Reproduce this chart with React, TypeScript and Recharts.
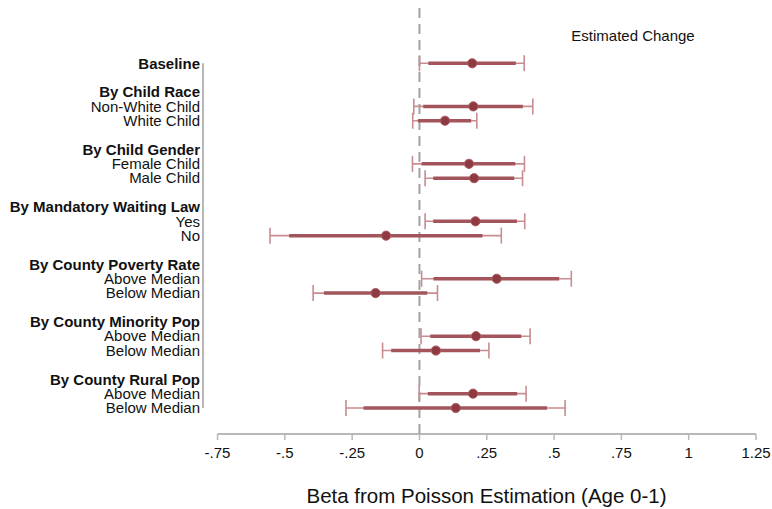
import {
  ScatterChart, Scatter, XAxis, YAxis, ErrorBar, ReferenceLine, Customized,
} from "recharts";

// rows from top to bottom; empty strings are the gaps between groups
const rowLabels = [
  "Baseline", "",
  "By Child Race", "Non-White Child", "White Child", "",
  "By Child Gender", "Female Child", "Male Child", "",
  "By Mandatory Waiting Law", "Yes", "No", "",
  "By County Poverty Rate", "Above Median", "Below Median", "",
  "By County Minority Pop", "Above Median", "Below Median", "",
  "By County Rural Pop", "Above Median", "Below Median",
];
const boldRows = [
  "Baseline", "By Child Race", "By Child Gender", "By Mandatory Waiting Law",
  "By County Poverty Rate", "By County Minority Pop", "By County Rural Pop",
];

// rows that carry an estimate
const estimateRows = [0, 3, 4, 7, 8, 11, 12, 15, 16, 19, 20, 23, 24];
const betas = [0.196, 0.200, 0.095, 0.184, 0.203, 0.208, -0.124, 0.287, -0.163, 0.210, 0.061, 0.199, 0.135];
const lo95 = [0.000, -0.021, -0.025, -0.026, 0.021, 0.021, -0.555, 0.008, -0.395, 0.006, -0.137, -0.001, -0.273];
const hi95 = [0.389, 0.421, 0.213, 0.390, 0.383, 0.391, 0.304, 0.564, 0.067, 0.411, 0.258, 0.396, 0.541];
const lo90 = [0.033, 0.014, -0.006, 0.008, 0.051, 0.051, -0.484, 0.052, -0.355, 0.040, -0.105, 0.031, -0.208];
const hi90 = [0.358, 0.384, 0.192, 0.356, 0.352, 0.362, 0.234, 0.519, 0.029, 0.378, 0.225, 0.363, 0.474];
const changeLabels = ["21.7%", "22.2%", "10%", "20.2%", "22.5%", "23.1%", "-11.7%", "33.2%", "-15%", "23.4%", "6.3%", "22%", "14.5%"];

const xTicks = [-0.75, -0.5, -0.25, 0, 0.25, 0.5, 0.75, 1, 1.25];

const data = estimateRows.map((row, i) => ({
  row,
  beta: betas[i],
  ci95: [betas[i] - lo95[i], hi95[i] - betas[i]],
  ci90: [betas[i] - lo90[i], hi90[i] - betas[i]],
}));

// axis ranges (row axis is padded above for the column header, below for the x axis)
const X_MIN = -0.804;
const X_MAX = 1.25;
const ROW_TOP = -3.85;
const ROW_BOTTOM = 25.81;

const FONT = "'Liberation Sans', Arial, sans-serif";
const INK = "#111111";
const AXIS_GREY = "#b8b8b8";

const fmtTick = (v: number) => (v === 0 ? "0" : String(v).replace("0.", "."));

function RowTick({ x, y, payload }: any) {
  const label = rowLabels[Math.round(payload.value)] ?? "";
  const bold = boldRows.includes(label);
  return (
    <text x={x} y={y} dy="0.35em" textAnchor="end" fontFamily={FONT}
          fontSize={15} fontWeight={bold ? 700 : 400} fill={INK}>
      {label}
    </text>
  );
}

function ChangeTick({ x, y, payload }: any) {
  const i = estimateRows.indexOf(Math.round(payload.value));
  if (i < 0) return null;
  return (
    <text x={x - 123} y={y} dy="0.35em" textAnchor="middle" fontFamily={FONT}
          fontSize={15} fill={INK}>
      {changeLabels[i]}
    </text>
  );
}

function Dot({ cx, cy }: any) {
  return <circle cx={cx} cy={cy} r={4.6} fill="#8e3a40" stroke="#a95c62" strokeWidth={1} />;
}

function ColumnHeader() {
  return (
    <text x={633} y={36} dy="0.35em" textAnchor="middle" fontFamily={FONT} fontSize={15} fill={INK}>
      Estimated Change
    </text>
  );
}

export default function App() {
  return (
    <div style={{ position: "absolute", left: 0, top: 0, width: 772, height: 509, background: "#fff" }}>
      <ScatterChart width={772} height={509} margin={{ top: 8, right: 16, bottom: 0, left: 0 }}>
        <XAxis type="number" dataKey="beta" domain={[X_MIN, X_MAX]} ticks={xTicks}
               tickFormatter={fmtTick} axisLine={false} height={75}
               tickSize={6} tickMargin={7} interval={0}
               tickLine={{ stroke: AXIS_GREY, strokeWidth: 1.5 }}
               tick={{ fontSize: 15, fontFamily: FONT, fill: INK }}
               label={{ value: "Beta from Poisson Estimation (Age 0-1)", position: "insideBottom",
                        offset: 6, dx: 7, fontSize: 20.5, fontFamily: FONT, fill: INK }} />
        <YAxis yAxisId="rows" type="number" dataKey="row" domain={[ROW_TOP, ROW_BOTTOM]} reversed
               ticks={rowLabels.map((_, i) => i).filter(i => rowLabels[i] !== "")}
               interval={0} width={203} axisLine={false} tickLine={false}
               tickSize={0} tickMargin={3} tick={<RowTick />} />
        <YAxis yAxisId="pct" orientation="right" type="number" domain={[ROW_TOP, ROW_BOTTOM]} reversed
               ticks={estimateRows} interval={0} width={0} axisLine={false} tickLine={false}
               tickSize={0} tickMargin={0} tick={<ChangeTick />} />

        {/* axis lines drawn as segments so they stop at the outer ticks / rows */}
        <ReferenceLine yAxisId="rows" segment={[{ x: X_MIN, y: 0 }, { x: X_MIN, y: 24 }]}
                       stroke={AXIS_GREY} strokeWidth={2} ifOverflow="visible" />
        <ReferenceLine yAxisId="rows" segment={[{ x: -0.75, y: ROW_BOTTOM }, { x: 1.25, y: ROW_BOTTOM }]}
                       stroke={AXIS_GREY} strokeWidth={2} ifOverflow="visible" />
        <ReferenceLine yAxisId="rows" x={0} stroke="#a3a3a3" strokeWidth={2} strokeDasharray="10 6" />

        <Scatter yAxisId="rows" data={data} shape={<Dot />} isAnimationActive={false}>
          <ErrorBar dataKey="ci95" direction="x" width={8} stroke="#c78d91" strokeWidth={1.6} />
          <ErrorBar dataKey="ci90" direction="x" width={0} stroke="#a3555b" strokeWidth={3.5} />
        </Scatter>

        <Customized component={ColumnHeader} />
      </ScatterChart>
    </div>
  );
}
